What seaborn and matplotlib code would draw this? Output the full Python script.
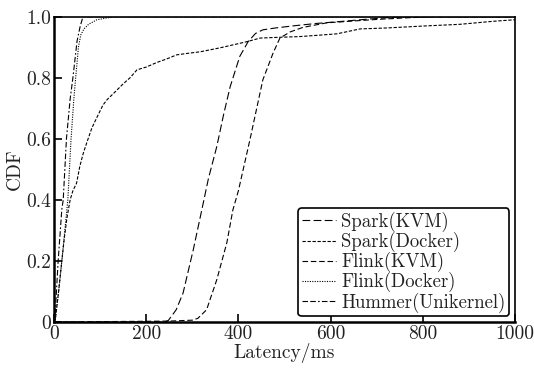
import matplotlib
matplotlib.use("Agg")
import matplotlib.pyplot as plt
import seaborn as sns
import pandas as pd

# ---- data ----
spark_kvm_x = [0, 240, 248, 265, 280, 302, 321, 335, 353, 368, 382, 403, 421, 437, 453, 480, 519, 570, 627, 680, 736, 800, 1000]
spark_kvm_y = [0, 0, 0.005, 0.04, 0.095, 0.236, 0.37, 0.47, 0.574, 0.68, 0.77, 0.87, 0.918, 0.945, 0.957, 0.963, 0.97, 0.978, 0.985, 0.992, 0.998, 1.0, 1.0]

spark_docker_x = [0, 3, 10, 17, 22, 28, 35, 41, 49, 56, 63, 71, 82, 93, 106, 115, 130, 150, 165, 180, 200, 223, 245, 266, 290, 317, 360, 418, 447, 480, 534, 580, 614, 664, 720, 809, 880, 953, 1000]
spark_docker_y = [0, 0.01, 0.1, 0.2, 0.27, 0.34, 0.4, 0.43, 0.455, 0.51, 0.55, 0.587, 0.635, 0.67, 0.71, 0.728, 0.75, 0.78, 0.80, 0.826, 0.835, 0.85, 0.862, 0.875, 0.88, 0.885, 0.898, 0.918, 0.93, 0.932, 0.935, 0.94, 0.944, 0.96, 0.963, 0.97, 0.975, 0.985, 0.99]

flink_kvm_x = [0, 250, 300, 312, 331, 353, 375, 388, 400, 425, 453, 475, 490, 512, 540, 592, 650, 700, 760, 820, 1000]
flink_kvm_y = [0, 0.003, 0.006, 0.012, 0.04, 0.138, 0.26, 0.367, 0.43, 0.597, 0.793, 0.88, 0.93, 0.95, 0.965, 0.98, 0.986, 0.991, 0.996, 1.0, 1.0]

flink_docker_x = [0, 3, 10, 17, 28, 30, 37, 43, 47, 53, 58, 65, 75, 93, 130, 1000]
flink_docker_y = [0, 0.01, 0.1, 0.2, 0.37, 0.4, 0.6, 0.73, 0.8, 0.9, 0.94, 0.96, 0.975, 0.99, 1.0, 1.0]

hummer_x = [0, 2, 9, 17, 20, 27, 35, 41, 50, 57, 63, 1000]
hummer_y = [0, 0.01, 0.2, 0.37, 0.4, 0.6, 0.73, 0.8, 0.92, 0.97, 1.0, 1.0]

labels = ["Spark(KVM)", "Spark(Docker)", "Flink(KVM)", "Flink(Docker)", "Hummer(Unikernel)"]
xticks = [0, 200, 400, 600, 800, 1000]
xtick_labels = ["0", "200", "400", "600", "800", "1000"]
yticks = [0, 0.2, 0.4, 0.6, 0.8, 1.0]
ytick_labels = ["0", "0.2", "0.4", "0.6", "0.8", "1.0"]

series = [
    (spark_kvm_x, spark_kvm_y),
    (spark_docker_x, spark_docker_y),
    (flink_kvm_x, flink_kvm_y),
    (flink_docker_x, flink_docker_y),
    (hummer_x, hummer_y),
]
frames = []
for lab, (xs, ys) in zip(labels, series):
    frames.append(pd.DataFrame({"Latency": xs, "CDF": ys, "series": lab}))
df = pd.concat(frames, ignore_index=True)

sns.set_style("ticks")
plt.rcParams["font.family"] = ["serif"]
plt.rcParams["font.serif"] = ["cmr10", "DejaVu Serif"]
plt.rcParams["axes.formatter.use_mathtext"] = True
plt.rcParams["mathtext.fontset"] = "cm"

fig = plt.figure(figsize=(5.34, 3.68), dpi=100)
ax = fig.add_axes([54 / 534, 1 - 322 / 368, (515 - 54) / 534, (322 - 16.7) / 368])

dashes = {
    "Spark(KVM)": (7, 3),
    "Spark(Docker)": (3, 1.5),
    "Flink(KVM)": (5, 2.5),
    "Flink(Docker)": (1, 1.2),
    "Hummer(Unikernel)": (5, 2, 5, 2, 1.5, 2),
}
sns.lineplot(data=df, x="Latency", y="CDF", hue="series", style="series",
             hue_order=labels, style_order=labels,
             palette=["black"] * 5, dashes=dashes, linewidth=0.8,
             estimator=None, sort=False, ax=ax)

ax.set_xlim(0, 1000)
ax.set_ylim(0, 1.0)
ax.set_xticks(xticks)
ax.set_xticklabels(xtick_labels)
ax.set_yticks(yticks)
ax.set_yticklabels(ytick_labels)
ax.tick_params(direction="in", length=6, width=1.2, labelsize=14, colors="black", labelcolor="#222222", pad=2)
for s in ax.spines.values():
    s.set_visible(True)
    s.set_color("black")
ax.spines["left"].set_linewidth(1.8)
ax.spines["bottom"].set_linewidth(1.8)
ax.spines["top"].set_linewidth(1.2)
ax.spines["right"].set_linewidth(1.2)
ax.set_xlabel("Latency/ms", fontsize=14, labelpad=0, color="#222222")
ax.set_ylabel("CDF", fontsize=14, labelpad=2, color="#222222")

leg = ax.legend(loc="lower right", fontsize=13.5, frameon=True, fancybox=True,
                handlelength=1.8, handletextpad=0.3, labelspacing=0.0,
                borderpad=0.2, borderaxespad=0.3)
leg.get_frame().set_edgecolor("black")
leg.get_frame().set_linewidth(1.2)
leg.get_frame().set_alpha(1)
for t in leg.get_texts():
    t.set_color("#222222")

fig.savefig("out.png", dpi=100)
